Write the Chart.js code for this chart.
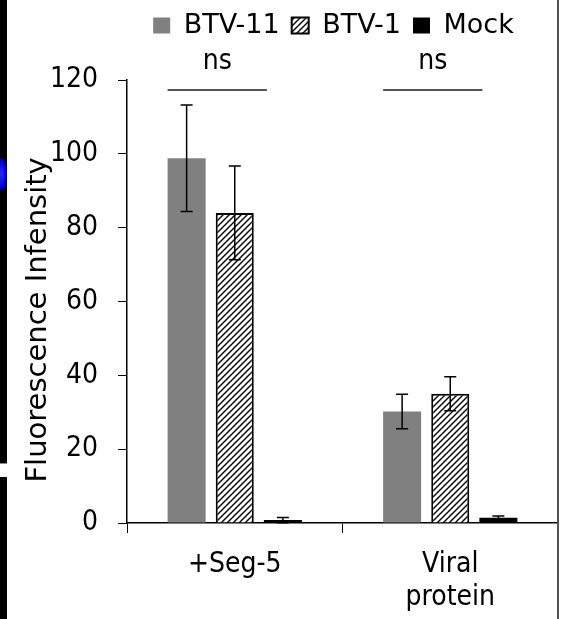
<!DOCTYPE html>
<html>
<head>
<meta charset="utf-8">
<script src="https://cdn.jsdelivr.net/npm/chart.js@4.4.0/dist/chart.umd.min.js"></script>
<style>
    html, body { margin: 0; padding: 0; background: #fff; }
    #wrap { position: relative; width: 566px; height: 619px; overflow: hidden; }
    #grafica { position: absolute; left: 0; top: 0; }
    .franja { position: absolute; left: 0; top: 0; width: 7px; height: 619px; background: #000; }
    .hueco { position: absolute; left: 0; top: 463px; width: 7px; height: 13px; background: #fff; border-top: 1px solid #888; }
    .mancha { position: absolute; left: -4px; top: 158px; width: 11px; height: 32px; border-radius: 50%;
              background: radial-gradient(ellipse at center, #2a2aff 0%, #0000c8 60%, #000 100%); }
    .marco { position: absolute; left: 557px; top: 0; width: 2px; height: 619px; background: #555; }
</style>
</head>
<body>
<div id="wrap">
    <canvas id="grafica" width="566" height="619"></canvas>
    <div class="franja"></div>
    <div class="hueco"></div>
    <div class="mancha"></div>
    <div class="marco"></div>
</div>
<script>
// Datos
const categorias = ['+Seg-5', ['Viral', 'protein']];
const series = ['BTV-11', 'BTV-1', 'Mock'];
const valoresBTV11 = [98.8, 30.2];
const erroresBTV11 = [14.4, 4.7];
const valoresBTV1 = [84.0, 35.0];
const erroresBTV1 = [12.7, 4.6];
const valoresMock = [0.8, 1.4];
const erroresMock = [0.7, 0.5];
const ejeYMin = 0;
const ejeYMax = 120;
const ejeYPaso = 20;
const etiquetasSig = ['ns', 'ns'];
const nivelSig = 117.3;

const fuente = "'DejaVu Sans Condensed', 'DejaVu Sans', sans-serif";
const fuenteAncha = "'DejaVu Sans', sans-serif";
Chart.defaults.font.family = fuente;
Chart.defaults.color = '#000';

// Patrón rayado para BTV-1
function crearRayado() {
    const c = document.createElement('canvas');
    c.width = 6;
    c.height = 6;
    const g = c.getContext('2d');
    g.fillStyle = '#fff';
    g.fillRect(0, 0, 6, 6);
    g.strokeStyle = '#000';
    g.lineWidth = 1.4;
    g.beginPath();
    g.moveTo(-1, 7); g.lineTo(7, -1);
    g.moveTo(-1, 1); g.lineTo(1, -1);
    g.moveTo(5, 7); g.lineTo(7, 5);
    g.stroke();
    return g.createPattern(c, 'repeat');
}
const rayado = crearRayado();

const errores = [erroresBTV11, erroresBTV1, erroresMock];

// Barras de error
const barrasError = {
    id: 'barrasError',
    afterDatasetsDraw(chart) {
        const ctx = chart.ctx;
        const y = chart.scales.y;
        ctx.save();
        ctx.strokeStyle = '#000';
        ctx.lineWidth = 1.5;
        chart.data.datasets.forEach((ds, d) => {
            const meta = chart.getDatasetMeta(d);
            meta.data.forEach((barra, i) => {
                const v = ds.data[i];
                const e = errores[d][i];
                const yArriba = y.getPixelForValue(v + e);
                const yAbajo = y.getPixelForValue(Math.max(v - e, 0));
                ctx.beginPath();
                ctx.moveTo(barra.x, yArriba);
                ctx.lineTo(barra.x, yAbajo);
                ctx.moveTo(barra.x - 6, yArriba);
                ctx.lineTo(barra.x + 6, yArriba);
                ctx.moveTo(barra.x - 6, yAbajo);
                ctx.lineTo(barra.x + 6, yAbajo);
                ctx.stroke();
            });
        });
        ctx.restore();
    }
};

// Líneas "ns"
const significancia = {
    id: 'significancia',
    afterDraw(chart) {
        const ctx = chart.ctx;
        const y = chart.scales.y.getPixelForValue(nivelSig);
        const primera = chart.getDatasetMeta(0).data;
        const ultima = chart.getDatasetMeta(2).data;
        ctx.save();
        ctx.strokeStyle = '#555';
        ctx.lineWidth = 2;
        ctx.fillStyle = '#000';
        ctx.font = '28px ' + fuente;
        ctx.textAlign = 'center';
        ctx.textBaseline = 'alphabetic';
        etiquetasSig.forEach((txt, i) => {
            const x0 = primera[i].x - primera[i].width / 2;
            const x1 = ultima[i].x - ultima[i].width / 2 + 3;
            ctx.beginPath();
            ctx.moveTo(x0, y);
            ctx.lineTo(x1, y);
            ctx.stroke();
            ctx.fillText(txt, (x0 + x1) / 2, y - 21);
        });
        ctx.restore();
    }
};

// Ajustar la leyenda: altura fija y desplazada a la derecha
const ajusteLeyenda = {
    id: 'ajusteLeyenda',
    afterInit(chart) {
        const leyenda = chart.legend;
        const fitOriginal = leyenda.fit;
        leyenda.fit = function() {
            fitOriginal.call(this);
            this.height = 80;
        };
    },
    afterLayout(chart) {
        chart.legend.left = 101;
        chart.legend.right = 566;
    }
};

const ctx = document.getElementById('grafica').getContext('2d');
new Chart(ctx, {
    type: 'bar',
    data: {
        labels: categorias,
        datasets: [
            {
                label: series[0],
                data: valoresBTV11,
                backgroundColor: '#808080',
                borderWidth: 0
            },
            {
                label: series[1],
                data: valoresBTV1,
                backgroundColor: rayado,
                borderColor: '#000',
                borderWidth: 2
            },
            {
                label: series[2],
                data: valoresMock,
                backgroundColor: '#000',
                borderWidth: 0
            }
        ]
    },
    options: {
        responsive: false,
        animation: false,
        devicePixelRatio: 1,
        layout: {
            padding: { left: 0, right: 8, top: 0, bottom: 0 }
        },
        datasets: {
            bar: {
                categoryPercentage: 0.67,
                barPercentage: 0.79
            }
        },
        plugins: {
            legend: {
                position: 'top',
                align: 'center',
                labels: {
                    boxWidth: 17,
                    boxHeight: 16,
                    padding: 12,
                    color: '#000',
                    font: { size: 27, family: fuenteAncha }
                }
            },
            tooltip: { enabled: false }
        },
        scales: {
            x: {
                grid: {
                    display: true,
                    offset: true,
                    drawOnChartArea: false,
                    drawTicks: true,
                    tickLength: 10,
                    color: '#000',
                    lineWidth: 1
                },
                border: { display: true, color: '#000', width: 1.5 },
                ticks: {
                    color: '#000',
                    padding: 16,
                    font: { size: 28, lineHeight: 1.15 }
                },
                afterFit(scale) {
                    scale.height = 96;
                }
            },
            y: {
                min: ejeYMin,
                max: ejeYMax,
                grid: {
                    display: true,
                    drawOnChartArea: false,
                    drawTicks: true,
                    tickLength: 9,
                    color: '#000',
                    lineWidth: 1
                },
                border: { display: true, color: '#000', width: 1.5 },
                ticks: {
                    stepSize: ejeYPaso,
                    color: '#000',
                    padding: 20,
                    font: { size: 28 }
                },
                title: {
                    display: true,
                    text: 'Fluorescence Infensity\u00a0\u00a0\u00a0\u00a0',
                    color: '#000',
                    padding: { top: 21, bottom: 0 },
                    font: { size: 29, family: fuenteAncha }
                },
                afterFit(scale) {
                    scale.width = 127;
                }
            }
        }
    },
    plugins: [barrasError, significancia, ajusteLeyenda]
});
</script>
</body>
</html>
